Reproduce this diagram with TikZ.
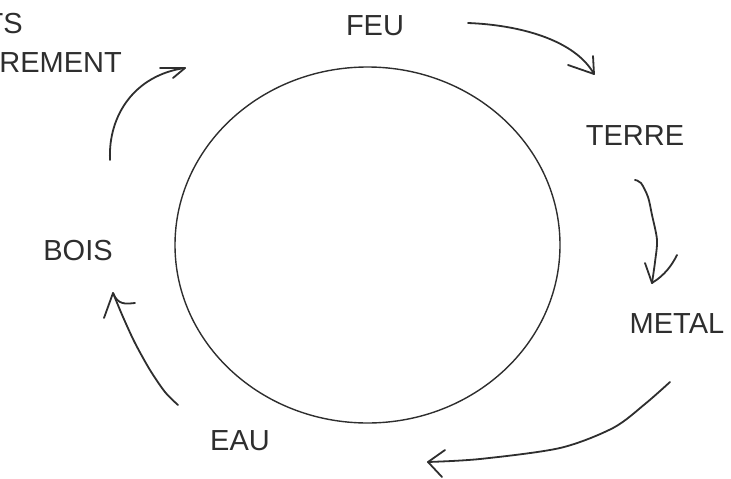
\documentclass[tikz,border=0pt]{standalone}
\usepackage{fontspec}
\usetikzlibrary{shapes.geometric}
\setmainfont{Liberation Sans}
\begin{document}
\begin{tikzpicture}[x=1pt,y=-1pt,
  lbl/.style={inner sep=0pt,anchor=base,font=\fontsize{29}{31}\selectfont,text=black!82},
  hand/.style={draw=black!82,line width=1.8pt,line cap=round,line join=round}]
\useasboundingbox (0,0) rectangle (731,479);
\node[draw=black!82,line width=1.4pt,ellipse,minimum width=385pt,minimum height=356pt,inner sep=0pt] (c) at (367.5,245) {};
\node[lbl] (feu) at (375,35) {FEU};
\node[lbl] (terre) at (635,145) {TERRE};
\node[lbl] (metal) at (677,333) {METAL};
\node[lbl] (eau) at (240,450) {EAU};
\node[lbl] (bois) at (78,260) {BOIS};
\node[lbl,anchor=base east] (ts) at (23,33) {TS};
\node[lbl,anchor=base east] (rement) at (122,72) {REMENT};
% arrow FEU -> TERRE
\coordinate (a1s) at (468,23);
\coordinate (a1t) at (594,74);
\draw[hand] (a1s) .. controls (520,25) and (575,40) .. (a1t);
\draw[hand] (568,65) -- (a1t) -- (593,56);
% arrow TERRE -> METAL
\coordinate (a2s) at (635,180);
\coordinate (a2t) at (652,283);
\draw[hand] plot[smooth] coordinates {(a2s) (641,183) (648,197) (652,215) (657,240) (655,262) (a2t)};
\draw[hand] (645,263) -- (a2t) .. controls (665,275) and (672,265) .. (677,255);
% arrow METAL -> EAU
\coordinate (a3s) at (670,382);
\coordinate (a3t) at (428,462);
\draw[hand] plot[smooth] coordinates {(a3s) (645,404) (613,428) (560,448) (480,459) (a3t)};
\draw[hand] (445,450) -- (a3t) -- (442,477);
% arrow EAU -> BOIS
\coordinate (a4s) at (178,405);
\coordinate (a4t) at (113,293);
\draw[hand] plot[smooth] coordinates {(a4s) (165,392) (150,370) (135,343) (123,317) (a4t)};
\draw[hand] (104,318) -- (a4t) .. controls (118,305) and (125,304) .. (135,303);
% arrow BOIS -> top
\coordinate (a5s) at (110,160);
\coordinate (a5t) at (185,68);
\draw[hand] (a5s) .. controls (108,115) and (135,75) .. (a5t);
\draw[hand] (160,68) -- (a5t) -- (173,78);
\end{tikzpicture}
\end{document}
